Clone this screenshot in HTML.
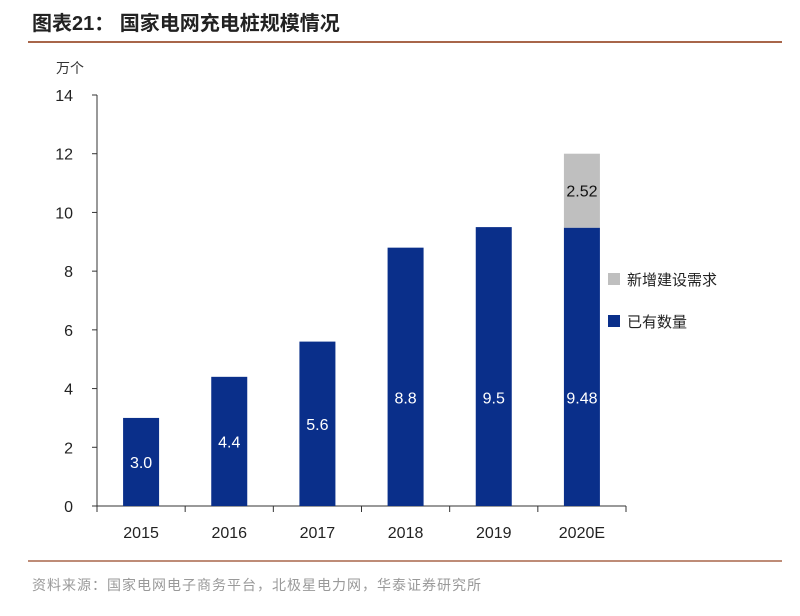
<!DOCTYPE html>
<html><head><meta charset="utf-8"><style>
body{margin:0;background:#fff;width:800px;height:611px;overflow:hidden}
svg text{font-family:"Liberation Sans","Noto Sans CJK SC",sans-serif}
</style></head><body>
<svg width="800" height="611" xmlns="http://www.w3.org/2000/svg">
<text x="32" y="30" font-size="20" font-weight="bold" fill="#222">图表21：  国家电网充电桩规模情况</text>
<line x1="28" y1="42" x2="782" y2="42" stroke="#a8664a" stroke-width="2"/>
<text x="56" y="73" font-size="14" fill="#333">万个</text>
<g id="axes"></g>
<g id="bars"></g>
<g>
<rect x="608" y="273" width="12" height="12" fill="#bfbfbf"/>
<text x="627" y="285" font-size="15" fill="#222">新增建设需求</text>
<rect x="608" y="315" width="12" height="12" fill="#0a2f8a"/>
<text x="627" y="327" font-size="15" fill="#222">已有数量</text>
</g>
<line x1="28" y1="561" x2="782" y2="561" stroke="#a8664a" stroke-width="1.5"/>
<text x="32" y="590" font-size="14" fill="#999" letter-spacing="1">资料来源：国家电网电子商务平台，北极星电力网，华泰证券研究所</text>
</svg>
<script>
const categories=["2015","2016","2017","2018","2019","2020E"];
const existing=[3.0,4.4,5.6,8.8,9.5,9.48];
const existingLabels=["3.0","4.4","5.6","8.8","9.5","9.48"];
const newDemand=[0,0,0,0,0,2.52];
const newLabels=["","","","","","2.52"];
const yTicks=[0,2,4,6,8,10,12,14];
const NS="http://www.w3.org/2000/svg";
const x0=97,x1=626,yBase=506,yTop=95,yMax=14;
const band=(x1-x0)/categories.length,bw=36;
const y=v=>yBase-(v/yMax)*(yBase-yTop);
const cx=i=>x0+band*(i+0.5);
function mk(tag,attrs,parent){const e=document.createElementNS(NS,tag);for(const k in attrs)e.setAttribute(k,attrs[k]);parent.appendChild(e);return e;}
const axes=document.getElementById('axes'),bars=document.getElementById('bars');
let e=mk('line',{x1:x0,y1:yTop,x2:x0,y2:yBase,stroke:'#333','stroke-width':1},axes);


e=mk('line',{x1:x0,y1:yBase,x2:x1,y2:yBase,stroke:'#333','stroke-width':1},axes);


yTicks.forEach(t=>{
 const tk=mk('line',{x1:x0-5,y1:y(t),x2:x0,y2:y(t),stroke:'#333'},axes);
 
 
 const tx=mk('text',{x:x0-24,y:y(t)+6,'font-size':16,'text-anchor':'end',fill:'#222'},axes);
 tx.textContent=t;
 
 
});
for(let i=0;i<=categories.length;i++){
 const tk=mk('line',{x1:x0+band*i,y1:yBase,x2:x0+band*i,y2:yBase+6,stroke:'#333'},axes);
 
 
}
categories.forEach((c,i)=>{
 const tx=mk('text',{x:cx(i),y:538,'font-size':16,'text-anchor':'middle',fill:'#222'},axes);
 tx.textContent=c;
 
 
 const b=mk('rect',{x:cx(i)-bw/2,y:y(existing[i]),width:bw,height:yBase-y(existing[i]),fill:'#0a2f8a'},bars);
 
 
 const mid=(y(existing[i])+yBase)/2;
 const ly=Math.max(mid, y(Math.min(existing[i],3.7)+0)) ;
 const l=mk('text',{x:cx(i),y:(existing[i]>7?ly:mid)+6,'font-size':16,'text-anchor':'middle',fill:'#fff'},bars);
 l.textContent=existingLabels[i];
 
 
 if(newDemand[i]>0){
  const top=existing[i]+newDemand[i];
  const g=mk('rect',{x:cx(i)-bw/2,y:y(top),width:bw,height:y(existing[i])-y(top),fill:'#bfbfbf'},bars);
  
  
  const gl=mk('text',{x:cx(i),y:(y(top)+y(existing[i]))/2+6,'font-size':16,'text-anchor':'middle',fill:'#111'},bars);
  gl.textContent=newLabels[i];
  
  
 }
});
</script>
</body></html>
